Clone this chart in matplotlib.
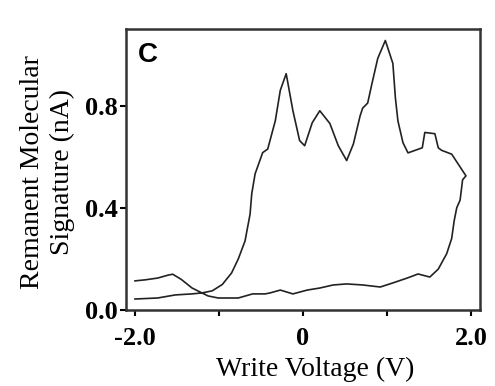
import matplotlib
matplotlib.use("Agg")
import matplotlib.pyplot as plt

# voltage sweep (V) and remanent signal (nA)
voltage = [-2.0, -1.88, -1.73, -1.6, -1.55, -1.45, -1.32, -1.13, -1.01, -0.77, -0.6,
           -0.45, -0.39, -0.27, -0.12, 0.05, 0.2, 0.36, 0.52, 0.71, 0.92, 1.07, 1.24,
           1.37, 1.51, 1.61, 1.71, 1.77, 1.8, 1.83, 1.87, 1.9, 1.94,
           1.85, 1.77, 1.65, 1.61, 1.57, 1.45, 1.42, 1.25, 1.19, 1.13, 1.1, 1.07, 0.98,
           0.89, 0.82, 0.77, 0.71, 0.68, 0.6, 0.52, 0.42, 0.32, 0.2, 0.11, 0.02, -0.04,
           -0.12, -0.2, -0.27, -0.33, -0.42, -0.48, -0.57, -0.61, -0.63, -0.69, -0.77,
           -0.85, -0.96, -1.08, -1.2, -1.32, -1.52, -1.73, -2.0]
signal = [0.114, 0.118, 0.125, 0.137, 0.14, 0.12, 0.086, 0.055, 0.047, 0.047, 0.063,
          0.063, 0.067, 0.078, 0.063, 0.078, 0.086, 0.098, 0.102, 0.098, 0.09, 0.106, 0.125,
          0.141, 0.129, 0.16, 0.22, 0.28, 0.35, 0.40, 0.43, 0.51, 0.525,
          0.57, 0.61, 0.625, 0.635, 0.69, 0.695, 0.635, 0.615, 0.655, 0.74, 0.83, 0.965, 1.055,
          0.985, 0.885, 0.81, 0.79, 0.76, 0.65, 0.585, 0.643, 0.73, 0.78, 0.733, 0.643, 0.663,
          0.78, 0.925, 0.86, 0.74, 0.63, 0.616, 0.533, 0.455, 0.375, 0.27, 0.2,
          0.145, 0.1, 0.075, 0.067, 0.063, 0.059, 0.047, 0.043]

xticks = [-2, -1, 0, 1, 2]
xticklabels = ['-2.0', '', '0', '', '2.0']
yticks = [0.0, 0.4, 0.8]
yticklabels = ['0.0', '0.4', '0.8']

plt.rcParams['font.family'] = ['Liberation Serif', 'DejaVu Serif']

fig = plt.figure(figsize=(4.95, 3.86), dpi=100)
ax = fig.add_axes([0.2545, 0.1969, 0.7152, 0.728])

ax.plot(voltage, signal, color='#222222', lw=1.2)

ax.set_xlim(-2.107, 2.107)
ax.set_ylim(0, 1.1)
ax.set_xticks(xticks)
ax.set_xticklabels(xticklabels, fontsize=19, fontweight='bold')
ax.set_yticks(yticks)
ax.set_yticklabels(yticklabels, fontsize=19, fontweight='bold')
ax.tick_params(direction='out', length=4, width=1.5, pad=2)
ax.tick_params(axis='x', pad=8)
for s in ax.spines.values():
    s.set_linewidth(1.8)
    s.set_color('#333333')

ax.set_xlabel('Write Voltage (V)', fontsize=20)
ax.xaxis.set_label_coords(0.535, -0.165)
ax.set_ylabel('Remanent Molecular\nSignature (nA)', fontsize=20, linespacing=1.25)
ax.yaxis.set_label_coords(-0.144, 0.49)

ax.text(0.034, 0.955, 'C', transform=ax.transAxes, fontsize=20, fontweight='bold',
        family='Liberation Sans', va='top', ha='left')

fig.savefig('out.png', dpi=100)
